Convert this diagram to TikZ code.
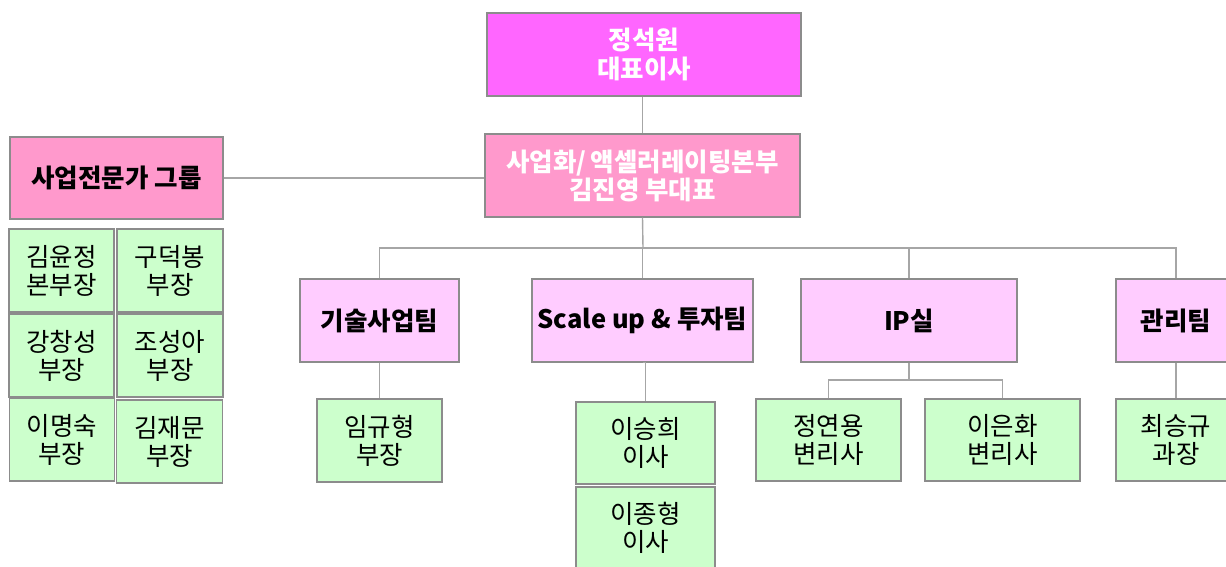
\documentclass[tikz,border=0pt]{standalone}
\usepackage{fontspec}
\setmainfont{Noto Sans CJK KR}
\definecolor{cMag}{HTML}{FF66FF}
\definecolor{cPink}{HTML}{FF99CC}
\definecolor{cLight}{HTML}{FFCCFF}
\definecolor{cGreen}{HTML}{CCFFCC}
\definecolor{cBorder}{HTML}{8C8C8C}
\definecolor{cLine}{HTML}{A6A6A6}
\tikzset{
  box/.style={draw=cBorder, line width=1.4pt, inner sep=0pt, align=center, font=\fontsize{25.5}{28}\selectfont},
  topbox/.style={box, fill=cMag, text=white, font=\fontsize{25.5}{28.5}\selectfont\bfseries},
  hqbox/.style={box, fill=cPink, text=white, font=\fontsize{25.5}{28}\selectfont\bfseries},
  grpbox/.style={box, fill=cPink, font=\fontsize{25.5}{28}\selectfont\bfseries},
  teambox/.style={box, fill=cLight, font=\fontsize{25.5}{28}\selectfont\bfseries},
  person/.style={box, fill=cGreen},
  conn/.style={draw=cLine, line width=1.4pt},
}
\begin{document}
\begin{tikzpicture}[x=1pt, y=-1pt]
\useasboundingbox (0,0) rectangle (1226,567);
% top
\node[topbox, minimum width=314pt, minimum height=83pt] (ceo) at (644,54.5) {정석원\\대표이사};
\node[hqbox, minimum width=315pt, minimum height=83pt] (hq) at (642.5,175.5) {사업화/\,액셀러레이팅본부\\김진영 부대표};
\node[grpbox, minimum width=213pt, minimum height=82pt] (grp) at (116.5,178) {사업전문가 그룹};
% expert group members
\node[person, minimum width=105pt, minimum height=83pt] (g1) at (61.5,270.5) {김윤정\\본부장};
\node[person, minimum width=106pt, minimum height=83pt] (g2) at (170,270.5) {구덕봉\\부장};
\node[person, minimum width=105pt, minimum height=83pt] (g3) at (61.5,355.5) {강창성\\부장};
\node[person, minimum width=106pt, minimum height=83pt] (g4) at (170,355.5) {조성아\\부장};
\node[person, minimum width=105pt, minimum height=83pt] (g5) at (62,439.5) {이명숙\\부장};
\node[person, minimum width=106pt, minimum height=83pt] (g6) at (169.5,441.5) {김재문\\부장};
% teams
\node[teambox, minimum width=159pt, minimum height=83pt] (t1) at (379.5,320.5) {기술사업팀};
\node[teambox, minimum width=221pt, minimum height=83pt] (t2) at (642.5,320.5) {Scale up \& 투자팀};
\node[teambox, minimum width=216pt, minimum height=83pt] (t3) at (909,320.5) {IP실};
\node[teambox, minimum width=120pt, minimum height=83pt] (t4) at (1176,320.5) {관리팀};
% team members
\node[person, minimum width=125pt, minimum height=83pt] (m1) at (379.5,440.5) {임규형\\부장};
\node[person, minimum width=139pt, minimum height=82pt] (m2) at (645.5,443) {이승희\\이사};
\node[person, minimum width=139pt, minimum height=82pt] (m3) at (645.5,528) {이종형\\이사};
\node[person, minimum width=145pt, minimum height=82pt] (m4) at (828.5,440) {정연용\\변리사};
\node[person, minimum width=155pt, minimum height=82pt] (m5) at (1002.5,440) {이은화\\변리사};
\node[person, minimum width=120pt, minimum height=82pt] (m6) at (1176,440) {최승규\\과장};
% connectors
\coordinate (bus) at (643,248);
\coordinate (ipbus) at (909,380);
\draw[conn] (ceo.south -| hq.north) -- (hq.north);
\draw[conn] (grp.east) -- (grp.east -| hq.west);
\draw[conn] (hq.south) -- (bus);
\draw[conn] (t1.north) |- (bus);
\draw[conn] (t2.north) -- (t2.north |- bus);
\draw[conn] (t3.north) |- (bus);
\draw[conn] (t4.north) |- (bus);
\draw[conn] (t1.south) -- (m1.north);
\draw[conn] (t2.south) -- (t2.south -| m2.north) -- (m2.north);
\draw[conn] (t3.south) -- (ipbus);
\draw[conn] (m4.north) |- (ipbus);
\draw[conn] (m5.north) |- (ipbus);
\draw[conn] (t4.south) -- (m6.north);
\end{tikzpicture}
\end{document}
